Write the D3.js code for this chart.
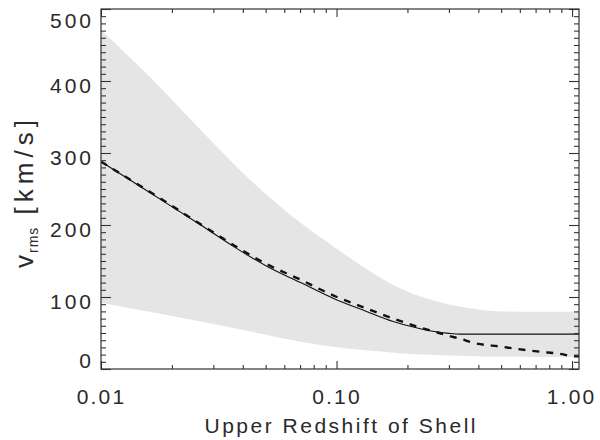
<!DOCTYPE html>
<html>
<head>
<meta charset="utf-8">
<script src="https://cdn.jsdelivr.net/npm/d3@7"></script>
<style>
  html, body { margin: 0; padding: 0; background: #fff; }
  svg { display: block; }
  text { font-family: "Liberation Sans", Arial, sans-serif; fill: #2a2a2a; }
</style>
</head>
<body>
<svg id="chart" width="600" height="440"></svg>
<script>
// Redshift samples for the scatter band across shells
const bandZ     = [0.01, 0.0163, 0.0265, 0.0432, 0.0704, 0.0971, 0.134, 0.186, 0.258, 0.358, 0.495, 0.7, 1.07];
const bandUpper = [471, 404, 332, 262, 203, 170, 139, 112, 95, 85, 80, 79.5, 79.5];
const bandLower = [92, 79, 66, 52, 38, 31, 26, 22, 19.5, 18, 17, 16.7, 16.5];

// Linear-theory prediction (solid)
const solidZ = [0.01, 0.0163, 0.0265, 0.0366, 0.051, 0.0704, 0.0971, 0.134, 0.174, 0.22, 0.26, 0.3, 0.335, 1.07];
const solidV = [288, 244, 200, 170, 142, 120, 98, 80, 66, 57, 52, 49.5, 48.5, 48.5];

// Mean over mock shells (dashed)
const dashZ = [0.01, 0.0163, 0.0265, 0.0366, 0.051, 0.0704, 0.0971, 0.134, 0.174, 0.23, 0.26, 0.3, 0.335, 0.38, 0.5, 0.58, 0.73, 0.89, 1.0, 1.07];
const dashV = [288, 245, 201, 172, 145, 124, 102, 84, 70, 57, 52, 46, 42, 36.5, 31, 28, 24, 21, 18, 17.5];

// Axis ticks
const xMajor = [0.01, 0.1, 1];
const xMajorLabels = ["0.01", "0.10", "1.00"];
const xMinor = [0.02,0.03,0.04,0.05,0.06,0.07,0.08,0.09,0.2,0.3,0.4,0.5,0.6,0.7,0.8,0.9];
const yMajor = [0, 100, 200, 300, 400, 500];
const yMinor = d3.range(0, 501, 10).filter(v => v % 100 !== 0);

const svg = d3.select("#chart");
const L = 101, R = 579, T = 9, B = 369;

const x = d3.scaleLog().domain([0.01, 1.07]).range([L, R]);
const y = d3.scaleLinear().domain([0, 500]).range([B, T]);

svg.append("clipPath").attr("id", "plotclip")
  .append("rect").attr("x", L).attr("y", T).attr("width", R - L).attr("height", B - T);

const g = svg.append("g").attr("clip-path", "url(#plotclip)");

// shaded scatter band
const bandData = bandZ.map((z, i) => ({ z, lo: bandLower[i], hi: bandUpper[i] }));
g.append("path")
  .datum(bandData)
  .attr("fill", "#e5e5e5")
  .attr("d", d3.area().curve(d3.curveMonotoneX)
    .x(d => x(d.z)).y0(d => y(d.lo)).y1(d => y(d.hi)));

const line = d3.line().curve(d3.curveMonotoneX).x(d => x(d[0])).y(d => y(d[1]));

g.append("path")
  .datum(solidZ.map((z, i) => [z, solidV[i]]))
  .attr("fill", "none").attr("stroke", "#111").attr("stroke-width", 1.1)
  .attr("d", line);

g.append("path")
  .datum(dashZ.map((z, i) => [z, dashV[i]]))
  .attr("fill", "none").attr("stroke", "#111").attr("stroke-width", 2.4)
  .attr("stroke-dasharray", "7,7")
  .attr("d", line);

// inward ticks on all four sides
function ticks(axisFn, scale, values, size, tx, ty) {
  svg.append("g")
    .attr("transform", `translate(${tx},${ty})`)
    .call(axisFn(scale).tickValues(values).tickSize(-size).tickFormat(""))
    .call(s => s.select(".domain").remove())
    .call(s => s.selectAll("line").attr("stroke", "#333").attr("stroke-width", 1.1));
}
ticks(d3.axisBottom, x, xMajor, 8, 0, B);
ticks(d3.axisBottom, x, xMinor, 4, 0, B);
ticks(d3.axisTop, x, xMajor, 8, 0, T);
ticks(d3.axisTop, x, xMinor, 4, 0, T);
ticks(d3.axisLeft, y, yMajor, 10, L, 0);
ticks(d3.axisLeft, y, yMinor, 5, L, 0);
ticks(d3.axisRight, y, yMajor, 10, R, 0);
ticks(d3.axisRight, y, yMinor, 5, R, 0);

// frame
svg.append("rect")
  .attr("x", L).attr("y", T).attr("width", R - L).attr("height", B - T)
  .attr("fill", "none").attr("stroke", "#333").attr("stroke-width", 1.2);

// tick labels
const xl = svg.append("g")
  .attr("transform", `translate(0,${B})`)
  .call(d3.axisBottom(x).tickValues(xMajor).tickSize(0).tickPadding(0)
    .tickFormat((d, i) => xMajorLabels[i]));
xl.select(".domain").remove();
xl.selectAll("text")
  .attr("y", 35).attr("dy", 0)
  .attr("dx", (d, i) => i === 2 ? -1 : 0)
  .style("font-size", "21px").style("letter-spacing", "2.2px")
  .attr("font-family", null);

const yl = svg.append("g")
  .attr("transform", `translate(${L},0)`)
  .call(d3.axisLeft(y).tickValues(yMajor).tickSize(0).tickPadding(7));
yl.select(".domain").remove();
yl.selectAll("text")
  .attr("dy", d => d === 500 ? 18 : d === 0 ? -2 : 11)
  .style("font-size", "21px").style("letter-spacing", "3px")
  .attr("font-family", null);

// axis titles
svg.append("text")
  .attr("x", 340).attr("y", 433)
  .attr("text-anchor", "middle")
  .attr("textLength", 271).attr("lengthAdjust", "spacing")
  .style("font-size", "21px")
  .text("Upper Redshift of Shell");

const yt = svg.append("text")
  .attr("transform", "translate(33,268) rotate(-90)")
  .attr("text-anchor", "start")
  .style("font-size", "26px");
yt.append("tspan").text("v");
yt.append("tspan").attr("dy", 5).attr("dx", 2).style("font-size", "14px").style("letter-spacing", "1px").text("rms");
yt.append("tspan").attr("dy", -5).style("letter-spacing", "5px").text(" [km/s]");
</script>
</body>
</html>
